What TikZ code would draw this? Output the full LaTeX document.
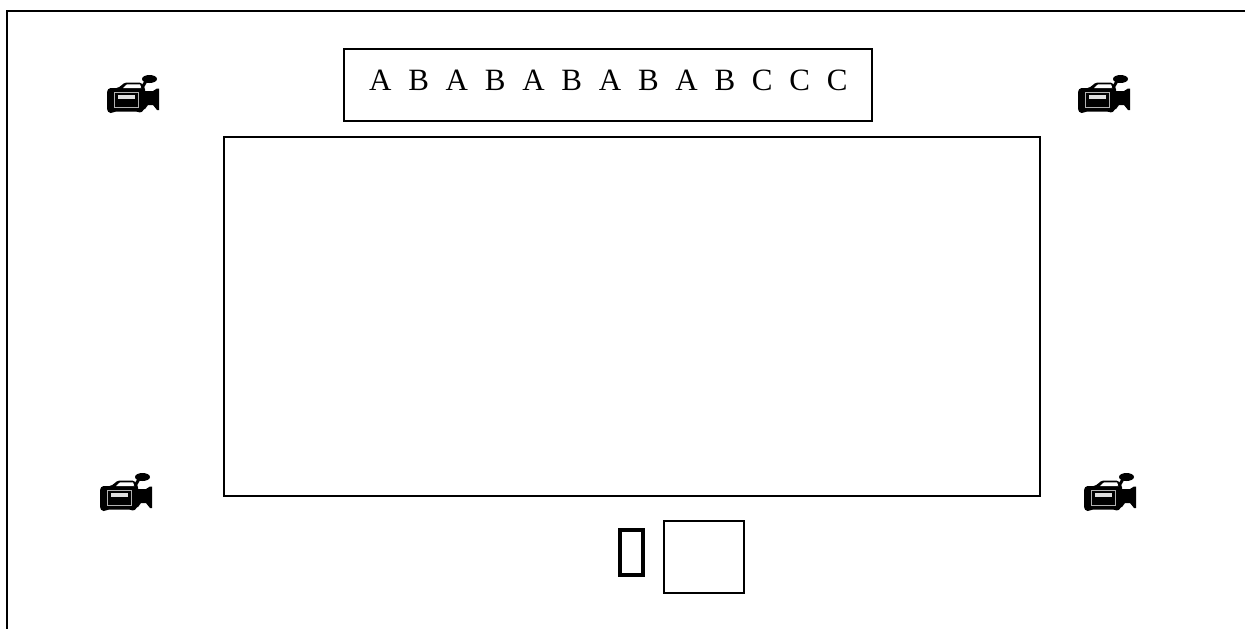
\documentclass[tikz,border=0pt]{standalone}
\usepackage{fontspec}
\setmainfont{Liberation Serif}
\newcommand{\camicon}[2]{%
\begin{scope}[shift={(#1,#2)}]
\fill[black,rounded corners=1.5] (0,16) -- (2,13) -- (11,13) -- (18,7.5) -- (34,7.5) -- (38,13) -- (38,33) -- (34,38) -- (30,36.5) -- (8,36.5) -- (5,38) -- (2,38) -- (0,35) -- cycle;
\fill[white] (16,13) -- (20,9.3) -- (33,9.3) -- (34.5,13) -- cycle;
\fill[gray!60] (7,17) rectangle (32,33);
\fill[black] (8,18) rectangle (31,32);
\fill[gray!25] (11,19.5) rectangle (28,24);
\fill[black] (36,16) -- (46,16) -- (50,13.5) -- (52,13.5) -- (52,35) -- (50,35) -- (46,30) -- (41,30) -- (38,34) -- (36,34) -- cycle;
\fill[black] (42.5,4) ellipse [x radius=7.5,y radius=4];
\draw[black,line width=3] (39,6) -- (35,13);
\end{scope}}
\tikzset{x=1pt,y=-1pt,frame/.style={draw=black,line width=1.6pt},thick box/.style={draw=black,line width=3.8pt}}
\begin{document}
\begin{tikzpicture}
\useasboundingbox (0,0) rectangle (1245,629);
\coordinate (bl) at (7,629);
\coordinate (tl) at (7,11);
\coordinate (tr) at (1245,11);
\draw[frame] (bl) -- (tl) -- (tr);
\node[frame,minimum width=528pt,minimum height=72pt,inner sep=0pt,anchor=north west] (queue) at (343,48) {};
\node[inner sep=0pt,anchor=base west,font=\fontsize{31pt}{31pt}\selectfont] (seq) at (369,90) {\spaceskip=16.75pt\relax A B A B A B A B A B C C C};
\node[frame,minimum width=816pt,minimum height=359pt,inner sep=0pt,anchor=north west] (screen) at (223,136) {};
\node[thick box,minimum width=23.2pt,minimum height=45.2pt,inner sep=0pt,anchor=north west] (small) at (618,528) {};
\node[frame,minimum width=80pt,minimum height=72pt,inner sep=0pt,anchor=north west] (square) at (663,520) {};
\camicon{107}{75}
\camicon{1078}{75}
\camicon{100}{473}
\camicon{1084}{473}
\end{tikzpicture}
\end{document}
